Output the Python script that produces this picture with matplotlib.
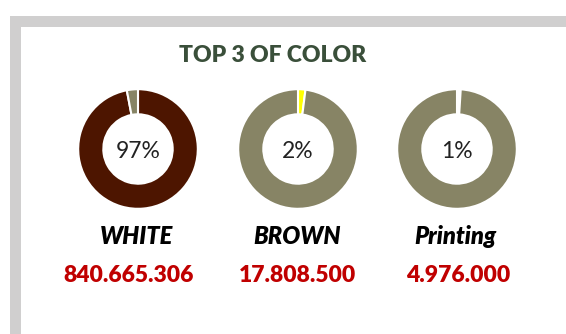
import matplotlib
matplotlib.use("Agg")
import matplotlib.pyplot as plt
from matplotlib.patches import Rectangle

W, H = 566, 334
title = "TOP 3 OF COLOR"
categories = ["WHITE", "BROWN", "Printing"]
amounts = ["840.665.306", "17.808.500", "4.976.000"]
pct_labels = ["97%", "2%", "1%"]
slices = [[97, 3], [2, 98], [1, 99]]
slice_colors = [["#4d1500", "#878465"], ["#ffff00", "#878465"], ["#ffffff", "#878465"]]

centers_x = [138, 298, 457]
center_y = 149
radius = 61
label_x = [136, 297, 455]
amount_x = [129, 298, 458]

fig = plt.figure(figsize=(W / 100, H / 100), dpi=100)
fig.patch.set_facecolor("white")

gray = "#d0cfcf"
fig.patches.append(Rectangle((10 / W, 0), 11 / W, (H - 16) / H, transform=fig.transFigure,
                             facecolor=gray, edgecolor="none"))
fig.patches.append(Rectangle((10 / W, (H - 27) / H), (W - 10) / W, 11 / H, transform=fig.transFigure,
                             facecolor=gray, edgecolor="none"))

fig.text(273 / W, 1 - 56 / H, title, ha="center", va="center", fontsize=16.5,
         fontweight="heavy", color="#3a4f3a", family="Lato")

for i in range(3):
    cx = centers_x[i]
    ax = fig.add_axes([(cx - radius) / W, (H - center_y - radius) / H, 2 * radius / W, 2 * radius / H])
    ax.pie(slices[i], colors=slice_colors[i], startangle=90, counterclock=False, radius=1,
           wedgeprops=dict(width=0.42, edgecolor="white", linewidth=1.5))
    ax.set_xlim(-1.02, 1.02)
    ax.set_ylim(-1.02, 1.02)
    ax.set_aspect("equal")
    ax.axis("off")
    ax.text(0, -0.04, pct_labels[i], ha="center", va="center", fontsize=16.5, color="#222222", family="Lato")
    fig.text(label_x[i] / W, 1 - 237 / H, categories[i], ha="center", va="center", fontsize=17,
             fontweight="heavy", fontstyle="italic", color="black", family="Lato")
    fig.text(amount_x[i] / W, 1 - 276 / H, amounts[i], ha="center", va="center", fontsize=16.5,
             fontweight="heavy", color="#c00000", family="Lato")

fig.savefig("out.png", dpi=100, facecolor="white")
